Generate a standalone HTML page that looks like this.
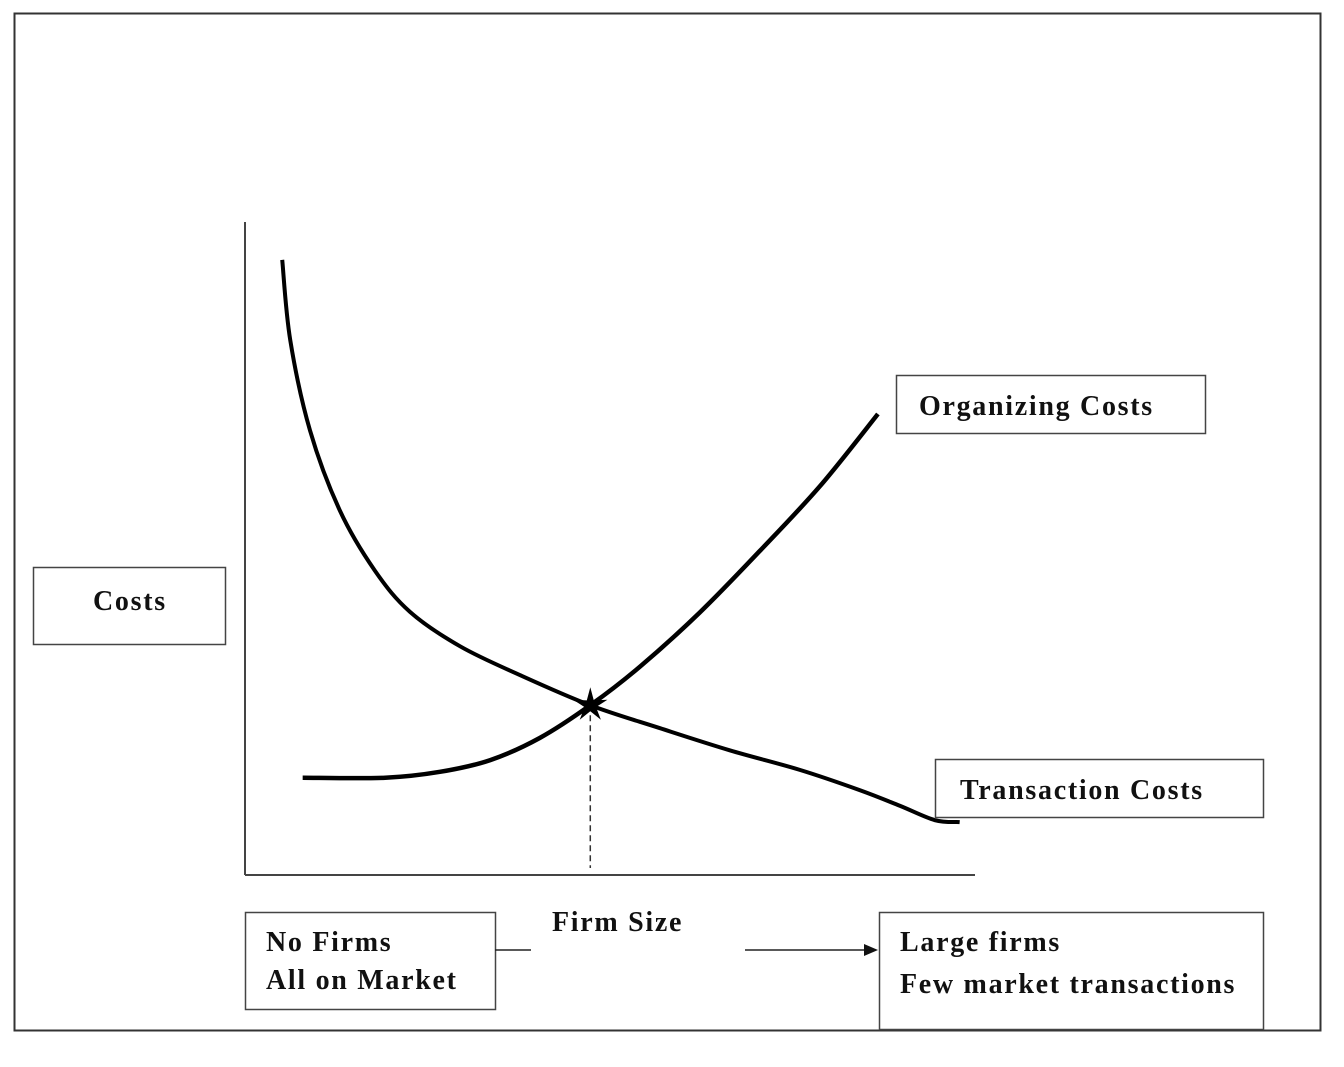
<!DOCTYPE html>
<html><head><meta charset="utf-8"><style>
body{margin:0;background:#fff;}
svg text{font-family:"Liberation Serif",serif;font-weight:bold;font-size:28px;fill:#111;letter-spacing:1.7px;}
</style></head><body>
<svg width="1344" height="1062">
<rect x="14.5" y="13.5" width="1306" height="1017" fill="none" stroke="#333" stroke-width="2"/>
<line x1="245" y1="222" x2="245" y2="875" stroke="#444" stroke-width="2"/>
<line x1="245" y1="875" x2="975" y2="875" stroke="#444" stroke-width="2"/>
<g id="curves"></g>
<rect x="33.5" y="567.5" width="192" height="77" fill="none" stroke="#444" stroke-width="1.5"/>
<text x="93" y="610">Costs</text>
<rect x="896.5" y="375.5" width="309" height="58" fill="none" stroke="#444" stroke-width="1.5"/>
<text x="919" y="415">Organizing Costs</text>
<rect x="935.5" y="759.5" width="328" height="58" fill="none" stroke="#444" stroke-width="1.5"/>
<text x="960" y="799">Transaction Costs</text>
<text x="552" y="931">Firm Size</text>
<rect x="245.5" y="912.5" width="250" height="97" fill="none" stroke="#444" stroke-width="1.5"/>
<text x="266" y="951">No Firms</text>
<text x="266" y="989">All on Market</text>
<rect x="879.5" y="912.5" width="384" height="117" fill="none" stroke="#444" stroke-width="1.5"/>
<text x="900" y="951">Large firms</text>
<text x="900" y="993">Few market transactions</text>
<line x1="495" y1="950" x2="531" y2="950" stroke="#222" stroke-width="1.5"/>
<line x1="745" y1="950" x2="866" y2="950" stroke="#222" stroke-width="1.5"/>
<polygon points="878,950 864,944 864,956" fill="#111"/>
</svg>
<script>
const transX=[5.1,6.2,8.9,13.0,17.8,22.6,29.5,37.7,47.3,56.8,66.4,76.0,84.2,89.7,94.5,97.9];
const transY=[94.2,81.9,68.1,55.8,46.6,40.3,35.0,30.6,26.0,22.5,19.1,16.1,13.0,10.6,8.4,8.1];
const orgX=[7.9,19.2,26.7,33.6,40.4,47.3,54.1,62.3,70.5,78.8,86.7];
const orgY=[14.9,14.9,15.8,17.6,21.0,26.0,31.9,40.2,49.6,59.6,70.6];
const eqX=[47.3];const eqY=[26.0];
const sx=v=>245+v*7.3, sy=v=>875-v*6.53;
function path(xs,ys){const p=xs.map((x,i)=>[sx(x),sy(ys[i])]);let d=`M${p[0][0]},${p[0][1]}`;
for(let i=0;i<p.length-1;i++){const p0=p[i-1]||p[i],p1=p[i],p2=p[i+1],p3=p[i+2]||p2;
d+=` C${p1[0]+(p2[0]-p0[0])/6},${p1[1]+(p2[1]-p0[1])/6} ${p2[0]-(p3[0]-p1[0])/6},${p2[1]-(p3[1]-p1[1])/6} ${p2[0]},${p2[1]}`;}return d;}
const g=document.getElementById('curves');const NS='http://www.w3.org/2000/svg';
const t=document.createElementNS(NS,'path');t.setAttribute('d',path(transX,transY));t.setAttribute('fill','none');t.setAttribute('stroke','#000');t.setAttribute('stroke-width','4');


g.appendChild(t);
const o=document.createElementNS(NS,'path');o.setAttribute('d',path(orgX,orgY));o.setAttribute('fill','none');o.setAttribute('stroke','#000');o.setAttribute('stroke-width','4.5');


g.appendChild(o);
const cx=sx(eqX[0]),cy=sy(eqY[0]);
const dl=document.createElementNS(NS,'line');dl.setAttribute('x1',cx);dl.setAttribute('x2',cx);dl.setAttribute('y1',cy);dl.setAttribute('y2',868);dl.setAttribute('stroke','#333');dl.setAttribute('stroke-width','1.5');dl.setAttribute('stroke-dasharray','6,4');


g.appendChild(dl);
let pts=[];for(let i=0;i<10;i++){const r=i%2?6:18,a=-Math.PI/2+i*Math.PI/5;pts.push((cx+r*Math.cos(a)).toFixed(1)+','+(cy+r*Math.sin(a)).toFixed(1));}
const st=document.createElementNS(NS,'polygon');st.setAttribute('points',pts.join(' '));st.setAttribute('fill','#000');


g.appendChild(st);
</script>
</body></html>
